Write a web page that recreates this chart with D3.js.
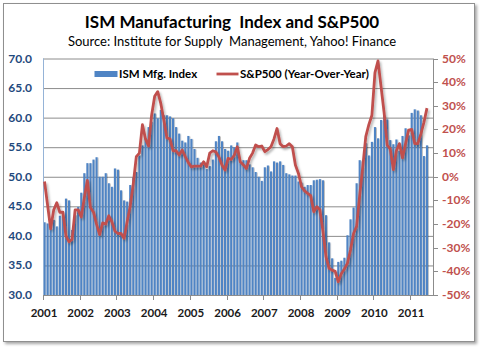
<!DOCTYPE html>
<html>
<head>
<meta charset="utf-8">
<script src="https://cdnjs.cloudflare.com/ajax/libs/d3/7.8.5/d3.min.js"></script>
<style>
	body { margin: 0; background: #fff; }
	svg text { font-family: Lato, "Open Sans", sans-serif; }
</style>
</head>
<body>
<div id="chart"></div>
<script>

// year labels on the category axis (data runs Jan 2001 - Jun 2011, monthly)
var yearLabels = ["2001","2002","2003","2004","2005","2006","2007","2008","2009","2010","2011"];

// ISM Manufacturing index, monthly
var ism = [
	42.3, 42.1, 41.2, 42.7, 41.6, 43.4, 43.5, 46.3, 46.0, 41.0, 43.5, 44.9,   // 2001
	47.3, 50.6, 52.3, 52.3, 52.9, 53.3, 50.0, 50.0, 50.6, 48.9, 48.3, 51.4,   // 2002
	51.2, 47.7, 46.0, 45.8, 48.6, 49.9, 50.8, 53.6, 55.3, 56.5, 58.4, 59.3,   // 2003
	60.7, 59.9, 61.3, 60.4, 60.4, 60.2, 59.9, 58.4, 57.3, 56.1, 55.8, 56.9,   // 2004
	56.4, 54.7, 53.2, 52.4, 52.1, 51.3, 51.8, 52.9, 56.0, 56.9, 56.0, 54.7,   // 2005
	54.4, 55.3, 55.0, 55.8, 52.5, 52.8, 52.8, 52.1, 51.6, 50.8, 50.0, 49.3,   // 2006
	51.6, 51.9, 50.9, 52.6, 52.4, 52.6, 52.0, 50.6, 50.4, 50.2, 50.2, 49.2,   // 2007
	49.0, 48.3, 48.6, 48.6, 49.4, 49.5, 49.6, 49.4, 43.5, 38.9, 36.2, 32.9,   // 2008
	35.6, 35.8, 36.3, 40.1, 42.8, 44.8, 48.9, 52.8, 52.6, 55.7, 53.6, 55.9,   // 2009
	58.4, 56.5, 59.6, 60.4, 59.7, 56.2, 55.5, 56.3, 54.4, 56.9, 58.2, 57.0,   // 2010
	60.8, 61.4, 61.2, 60.4, 53.5, 55.3                                         // 2011
];

// S&P500 year-over-year change, percent
var spx = [
	-2, -12, -22, -14, -11, -15, -15, -25, -27.5, -26.5, -14, -14,
	-17, -9, -1.5, -13, -15, -20, -24.5, -19.5, -20, -16.5, -19, -23,
	-24, -24, -26, -19, -12.5, -3, 8.5, 10, 22, 16, 13, 26,
	34, 36, 31, 24, 16.4, 16, 11, 11, 9.2, 11.3, 8.5, 6,
	4.2, 4.5, 4.5, 4.5, 6.3, 4.2, 10, 11, 10.5, 8.4, 5, 2.8,
	7.8, 7.3, 9, 12.7, 6.3, 5, 3.5, 7.8, 10, 13.4, 12.7, 13,
	10.6, 11.5, 12.7, 16, 20.4, 14, 12.7, 13, 14, 12.7, 5, 1.4,
	-4.2, -6, -7, -8, -14.8, -12.7, -14, -23, -33.8, -38.7, -39.5, -40,
	-44.4, -41, -39, -36.6, -31, -24, -21, -8, 4, 17, 22, 26,
	44, 49, 38, 27, 13.4, 11.8, 3, 11, 14, 8, 14, 19.7,
	20, 14, 14, 18, 23, 29
];

var leftTicks = [30, 35, 40, 45, 50, 55, 60, 65, 70];
var rightTicks = [-50, -40, -30, -20, -10, 0, 10, 20, 30, 40, 50];

var W = 480, H = 347;
var plot = {left: 43, right: 433, top: 58.5, bottom: 295};

var svg = d3.select("#chart").append("svg")
	.attr("width", W)
	.attr("height", H);

var defs = svg.append("defs");
var fShadow = defs.append("filter").attr("id", "frameShadow")
	.attr("x", "-5%").attr("y", "-5%").attr("width", "110%").attr("height", "110%");
fShadow.append("feDropShadow").attr("dx", 2).attr("dy", 2).attr("stdDeviation", 1.5)
	.attr("flood-color", "#000").attr("flood-opacity", 0.35);

var lShadow = defs.append("filter").attr("id", "lineShadow")
	.attr("x", "-5%").attr("y", "-5%").attr("width", "110%").attr("height", "120%");
lShadow.append("feDropShadow").attr("dx", 1.5).attr("dy", 2).attr("stdDeviation", 1.2)
	.attr("flood-color", "#000").attr("flood-opacity", 0.3);

var bShadow = defs.append("filter").attr("id", "barShadow")
	.attr("x", "-5%").attr("y", "-5%").attr("width", "110%").attr("height", "110%");
bShadow.append("feDropShadow").attr("dx", 1).attr("dy", 0.5).attr("stdDeviation", 0.4)
	.attr("flood-color", "#000").attr("flood-opacity", 0.25);

// outer frame
svg.append("rect")
	.attr("x", 3.5).attr("y", 3.5)
	.attr("width", 471).attr("height", 338)
	.attr("fill", "#fff")
	.attr("stroke", "#8f8f8f")
	.attr("filter", "url(#frameShadow)");

// titles
svg.append("text")
	.attr("x", 232).attr("y", 28)
	.attr("text-anchor", "middle")
	.style("font-size", "17px").style("font-weight", "bold")
	.style("white-space", "pre")
	.attr("fill", "#000")
	.text("ISM Manufacturing  Index and S&P500");

svg.append("text")
	.attr("x", 232).attr("y", 45.5)
	.attr("text-anchor", "middle")
	.style("font-size", "13px")
	.style("white-space", "pre")
	.attr("fill", "#000")
	.text("Source: Institute for Supply  Management, Yahoo! Finance");

// scales
var x = d3.scaleBand()
	.domain(d3.range(ism.length))
	.range([plot.left, 428.5])
	.paddingInner(0.32)
	.paddingOuter(0.16);
var step = x.step();

var yL = d3.scaleLinear().domain([30, 70]).range([plot.bottom, plot.top]);
var yR = d3.scaleLinear().domain([-50, 50]).range([plot.bottom, plot.top]);

// gridlines
svg.append("g").selectAll("line")
	.data(leftTicks.slice(1))
	.enter().append("line")
	.attr("x1", plot.left).attr("x2", plot.right)
	.attr("y1", function(d) { return yL(d) + 0.5; })
	.attr("y2", function(d) { return yL(d) + 0.5; })
	.attr("stroke", "#8c8c8c").attr("stroke-width", 1);

// bars
svg.append("g").attr("filter", "url(#barShadow)")
	.selectAll("rect")
	.data(ism)
	.enter().append("rect")
	.attr("x", function(d, i) { return x(i); })
	.attr("width", x.bandwidth())
	.attr("y", function(d) { return yL(d); })
	.attr("height", function(d) { return yL(30) - yL(d); })
	.attr("fill", "#4f84c4");

// axes lines
svg.append("line")
	.attr("x1", plot.left).attr("x2", plot.right)
	.attr("y1", plot.bottom + 0.5).attr("y2", plot.bottom + 0.5)
	.attr("stroke", "#8c8c8c");
svg.append("line")
	.attr("x1", plot.left + 0.5).attr("x2", plot.left + 0.5)
	.attr("y1", plot.top).attr("y2", plot.bottom)
	.attr("stroke", "#95b3d7");
svg.append("line")
	.attr("x1", plot.right + 0.5).attr("x2", plot.right + 0.5)
	.attr("y1", plot.top).attr("y2", plot.bottom)
	.attr("stroke", "#8c8c8c");

// x axis ticks and year labels
var yearPos = function(k) { return x(k * 12) - step * 0.16; };
svg.append("g").selectAll("line")
	.data(yearLabels)
	.enter().append("line")
	.attr("x1", function(d, k) { return Math.round(yearPos(k)) + 0.5; })
	.attr("x2", function(d, k) { return Math.round(yearPos(k)) + 0.5; })
	.attr("y1", plot.bottom).attr("y2", plot.bottom + 5)
	.attr("stroke", "#8c8c8c");
svg.append("g").selectAll("text")
	.data(yearLabels)
	.enter().append("text")
	.attr("x", function(d, k) { return yearPos(k) + 1; })
	.attr("y", 317)
	.attr("text-anchor", "middle")
	.style("font-size", "11.5px").style("font-weight", "bold")
	.attr("fill", "#1a1a1a")
	.text(function(d) { return d; });

// left tick labels
svg.append("g").selectAll("text")
	.data(leftTicks)
	.enter().append("text")
	.attr("x", 32)
	.attr("y", function(d) { return yL(d) + 4; })
	.attr("text-anchor", "end")
	.style("font-size", "12px").style("font-weight", "bold")
	.attr("fill", "#1f497d")
	.text(function(d) { return d.toFixed(1); });

// right ticks and labels
svg.append("g").selectAll("line")
	.data(rightTicks)
	.enter().append("line")
	.attr("x1", plot.right).attr("x2", plot.right + 5)
	.attr("y1", function(d) { return Math.round(yR(d)) + 0.5; })
	.attr("y2", function(d) { return Math.round(yR(d)) + 0.5; })
	.attr("stroke", "#8c8c8c");
svg.append("g").selectAll("text")
	.data(rightTicks)
	.enter().append("text")
	.attr("x", 442)
	.attr("y", function(d) { return yR(d) + 4; })
	.attr("text-anchor", "start")
	.style("font-size", "12px").style("font-weight", "bold")
	.attr("fill", "#c0504d")
	.text(function(d) { return d + "%"; });

// S&P500 line
var line = d3.line()
	.x(function(d, i) { return x(i) + x.bandwidth() / 2; })
	.y(function(d) { return yR(d); });

svg.append("path")
	.datum(spx)
	.attr("d", line)
	.attr("fill", "none")
	.attr("stroke", "#c0504d")
	.attr("stroke-width", 2.8)
	.attr("stroke-linejoin", "round")
	.attr("filter", "url(#lineShadow)");

// legend
svg.append("rect")
	.attr("x", 94.5).attr("y", 71).attr("width", 23).attr("height", 6)
	.attr("fill", "#4f84c4");
svg.append("text")
	.attr("x", 119).attr("y", 77.5)
	.style("font-size", "11.5px").style("font-weight", "bold")
	.attr("fill", "#000")
	.text("ISM Mfg. Index");
svg.append("line")
	.attr("x1", 216.5).attr("x2", 238.5)
	.attr("y1", 74).attr("y2", 74)
	.attr("stroke", "#c0504d").attr("stroke-width", 2.8);
svg.append("text")
	.attr("x", 240).attr("y", 77.5)
	.style("font-size", "11.5px").style("font-weight", "bold")
	.attr("fill", "#000")
	.text("S&P500 (Year-Over-Year)");

</script>
</body>
</html>
